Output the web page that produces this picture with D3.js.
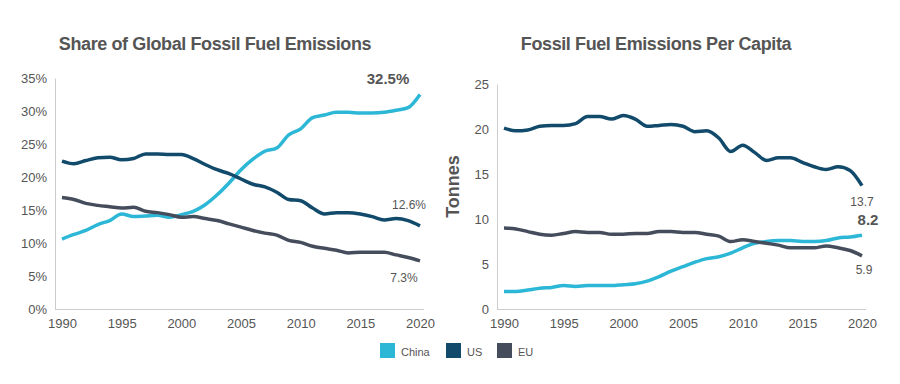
<!DOCTYPE html>
<html>
<meta charset="UTF-8">
    <head>
        <script src="https://d3js.org/d3.v7.min.js"></script>
        <style>
            body {
                margin: 0;
                background: white;
                font-family: "Liberation Sans", Arial, sans-serif;
            }
        </style>
    </head>
    <body>
    </body>
    <script>
        let years = d3.range(1990, 2021);

        // share of global fossil fuel emissions (%)
        let shareChina = [10.6, 11.3, 11.9, 12.8, 13.4, 14.4, 14.0, 14.1, 14.2, 13.9, 14.3,
            14.8, 15.8, 17.3, 19.1, 21.1, 22.7, 23.9, 24.4, 26.4, 27.3,
            29.0, 29.4, 29.8, 29.8, 29.7, 29.7, 29.8, 30.1, 30.5, 32.5];
        let shareUS = [22.4, 22.0, 22.5, 22.9, 23.0, 22.6, 22.8, 23.5, 23.5, 23.4, 23.4,
            22.8, 21.9, 21.1, 20.5, 19.7, 18.9, 18.5, 17.7, 16.6, 16.4,
            15.3, 14.4, 14.6, 14.6, 14.4, 14.0, 13.5, 13.7, 13.4, 12.6];
        let shareEU = [16.9, 16.6, 16.0, 15.7, 15.5, 15.3, 15.4, 14.8, 14.6, 14.3, 13.9,
            14.0, 13.7, 13.4, 12.9, 12.4, 11.9, 11.5, 11.2, 10.4, 10.1,
            9.5, 9.2, 8.9, 8.5, 8.6, 8.6, 8.6, 8.2, 7.8, 7.3];

        // per capita emissions (tonnes)
        let capChina = [1.95, 1.95, 2.1, 2.3, 2.4, 2.6, 2.5, 2.6, 2.6, 2.6, 2.7,
            2.8, 3.1, 3.6, 4.2, 4.7, 5.2, 5.6, 5.8, 6.2, 6.8,
            7.3, 7.5, 7.6, 7.6, 7.5, 7.5, 7.6, 7.9, 8.0, 8.2];
        let capUS = [20.1, 19.8, 19.9, 20.3, 20.4, 20.4, 20.6, 21.4, 21.4, 21.1, 21.5,
            21.1, 20.3, 20.4, 20.5, 20.3, 19.7, 19.8, 19.0, 17.5, 18.2,
            17.4, 16.5, 16.8, 16.8, 16.3, 15.8, 15.5, 15.8, 15.4, 13.7];
        let capEU = [9.0, 8.9, 8.6, 8.3, 8.2, 8.4, 8.6, 8.5, 8.5, 8.3, 8.3,
            8.4, 8.4, 8.6, 8.6, 8.5, 8.5, 8.3, 8.1, 7.5, 7.7,
            7.5, 7.3, 7.1, 6.8, 6.8, 6.8, 7.0, 6.8, 6.5, 5.9];

        let seriesNames = ["China", "US", "EU"];
        let colors = {"China": "#2cb7d6", "US": "#124a6b", "EU": "#454d5c"};
        let xTicks = [1990, 1995, 2000, 2005, 2010, 2015, 2020];

        let svg = d3.select("body").append("svg")
            .attr("width", 900)
            .attr("height", 384);

        function drawPanel(opt) {
            let g = svg.append("g");

            let x = d3.scaleLinear()
                .domain([1990, 2020])
                .range([opt.x0, opt.x1]);
            let y = d3.scaleLinear()
                .domain([0, opt.yMax])
                .range([opt.yBottom, opt.yTop]);

            // title
            g.append("text")
                .attr("x", opt.titleX)
                .attr("y", 50)
                .attr("text-anchor", "middle")
                .attr("font-size", "18px")
                .attr("font-weight", "bold")
                .attr("fill", "#555")
                .attr("letter-spacing", "-0.4px")
                .text(opt.title);

            // y axis
            let yAxis = g.append("g")
                .attr("transform", `translate(${opt.axisX},0)`)
                .call(d3.axisLeft(y).tickValues(opt.yTicks).tickSize(0).tickPadding(8).tickFormat(opt.fmt));
            yAxis.select(".domain").attr("stroke", "#ccc");

            // x axis
            let xAxis = g.append("g")
                .attr("transform", `translate(0,${opt.yBottom})`)
                .call(d3.axisBottom(x).tickValues(xTicks).tickSize(0).tickPadding(10).tickFormat(d3.format("d")));
            xAxis.select(".domain")
                .attr("d", `M${opt.axisX},0.5H${opt.x1 + 4}`)
                .attr("stroke", "#ccc");

            g.selectAll(".tick text")
                .attr("font-family", "\"Liberation Sans\", Arial, sans-serif")
                .attr("font-size", "13px")
                .attr("fill", "#555");

            // lines
            let line = d3.line()
                .x((d, i) => x(years[i]))
                .y(d => y(d))
                .curve(d3.curveMonotoneX);

            for (let name of seriesNames) {
                g.append("path")
                    .datum(opt.data[name])
                    .attr("fill", "none")
                    .attr("stroke", colors[name])
                    .attr("stroke-width", 3.5)
                    .attr("stroke-linejoin", "round")
                    .attr("d", line);
            }

            // end labels
            for (let lab of opt.labels) {
                g.append("text")
                    .attr("x", x(2020) + lab.dx)
                    .attr("y", y(lab.v) + lab.dy)
                    .attr("text-anchor", "middle")
                    .attr("font-size", lab.bold ? "15px" : "12px")
                    .attr("font-weight", lab.bold ? "bold" : "normal")
                    .attr("fill", "#555")
                    .text(lab.text);
            }

            if (opt.yLabel) {
                g.append("text")
                    .attr("transform", `translate(${opt.axisX - 38},${(opt.yTop + opt.yBottom) / 2 - 10}) rotate(-90)`)
                    .attr("text-anchor", "middle")
                    .attr("font-size", "18px")
                    .attr("font-weight", "bold")
                    .attr("fill", "#555")
                    .text(opt.yLabel);
            }
        }

        drawPanel({
            title: "Share of Global Fossil Fuel Emissions",
            titleX: 215,
            x0: 62, x1: 420, axisX: 55,
            yTop: 78, yBottom: 309, yMax: 35,
            yTicks: d3.range(0, 36, 5),
            fmt: d => d + "%",
            data: {"China": shareChina, "US": shareUS, "EU": shareEU},
            labels: [
                {text: "32.5%", v: 32.5, dx: -32, dy: -11, bold: true},
                {text: "12.6%", v: 12.6, dx: -11, dy: -17},
                {text: "7.3%", v: 7.3, dx: -16, dy: 21}
            ]
        });

        drawPanel({
            title: "Fossil Fuel Emissions Per Capita",
            titleX: 656,
            x0: 504, x1: 862, axisX: 497,
            yTop: 84, yBottom: 309, yMax: 25,
            yTicks: d3.range(0, 26, 5),
            fmt: d3.format("d"),
            yLabel: "Tonnes",
            data: {"China": capChina, "US": capUS, "EU": capEU},
            labels: [
                {text: "13.7", v: 13.7, dx: 0, dy: 20},
                {text: "8.2", v: 8.2, dx: 6, dy: -10, bold: true},
                {text: "5.9", v: 5.9, dx: 2, dy: 18}
            ]
        });

        // legend
        let legend = svg.append("g")
            .attr("transform", "translate(380,343)");
        let legendX = [0, 66, 117];
        legend.selectAll("rect")
            .data(seriesNames)
            .join("rect")
            .attr("x", (d, i) => legendX[i])
            .attr("y", 0)
            .attr("width", 15)
            .attr("height", 15)
            .attr("fill", d => colors[d]);
        legend.selectAll("text")
            .data(seriesNames)
            .join("text")
            .attr("x", (d, i) => legendX[i] + 21)
            .attr("y", 13)
            .attr("font-size", "11px")
            .attr("fill", "#555")
            .text(d => d);
    </script>
</html>
